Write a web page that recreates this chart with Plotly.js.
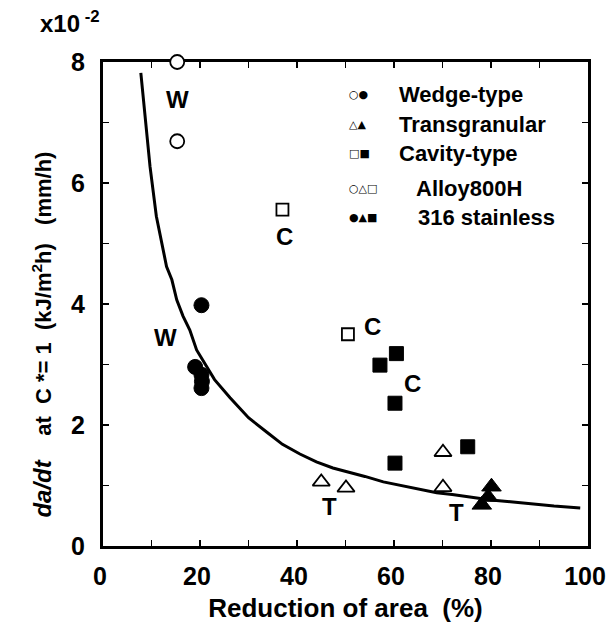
<!DOCTYPE html>
<html>
<head>
<meta charset="utf-8">
<script src="https://cdn.plot.ly/plotly-3.0.1.min.js"></script>
<style>
html,body{margin:0;padding:0;background:#fff;}
#chart{width:607px;height:631px;}
</style>
</head>
<body>
<div id="chart"></div>
<script>
// ---- data ----
const wedgeAlloyX = [15.3, 15.3];
const wedgeAlloyY = [8.0, 6.69];
const wedge316X = [20.3, 19.0, 20.3, 20.4, 20.3];
const wedge316Y = [3.98, 2.96, 2.83, 2.72, 2.61];
const transAlloyX = [45.0, 50.1, 70.1, 70.1];
const transAlloyY = [1.06, 0.96, 1.55, 0.97];
const trans316X = [80.1, 79.4, 78.1];
const trans316Y = [0.98, 0.81, 0.68];
const cavAlloyX = [37.0, 50.5];
const cavAlloyY = [5.56, 3.5];
const cav316X = [60.5, 57.1, 60.2, 60.2, 75.2];
const cav316Y = [3.18, 2.99, 2.36, 1.37, 1.64];
const curveX = [7.8, 8.8, 9.7, 11.0, 12.2, 13.1, 14.2, 15.2, 16.5, 17.9, 19.3, 21.0, 23.0, 26.2, 30.0, 33.8, 37.0, 40.6, 44.0, 47.4, 51.0, 54.0, 57.8, 63.0, 68.8, 72.0, 76.3, 80.0, 84.0, 88.7, 93.0, 98.4];
const curveY = [7.82, 7.0, 6.27, 5.45, 4.95, 4.62, 4.40, 4.07, 3.80, 3.57, 3.24, 3.02, 2.75, 2.45, 2.12, 1.88, 1.68, 1.52, 1.39, 1.29, 1.22, 1.15, 1.06, 0.97, 0.88, 0.85, 0.80, 0.76, 0.73, 0.69, 0.66, 0.63];
const labelText = ['W', 'W', 'C', 'C', 'C', 'T', 'T'];
const labelX = [15.3, 12.9, 37.5, 55.5, 63.9, 46.8, 72.8];
const labelY = [7.38, 3.45, 5.11, 3.62, 2.69, 0.65, 0.55];
const xTickVals = [0, 20, 40, 60, 80, 100];
const xTickText = ['0', '20', '40', '60', '80', '100'];
const yTickVals = [0, 2, 4, 6, 8];
const yTickText = ['0', '2', '4', '6', '8'];
const legendSyms = ['○●', '△▲', '□■', '○△□', '●▲■'];
const legendTexts = ['Wedge-type', 'Transgranular', 'Cavity-type', 'Alloy800H', '316 stainless'];

const F = 'Arial, "Liberation Sans", sans-serif';
const B = (s) => '<b>' + s + '</b>';
const NB = (n) => '\u00a0'.repeat(n);

function mk(x, y, symbol, size, open) {
  return {
    x: x, y: y, type: 'scatter', mode: 'markers', cliponaxis: false, showlegend: false,
    marker: {
      symbol: symbol, size: size,
      color: open ? '#ffffff' : '#000000',
      line: {color: '#000000', width: open ? 1.8 : 1}
    },
    hoverinfo: 'skip'
  };
}

const traces = [
  {x: curveX, y: curveY, type: 'scatter', mode: 'lines', line: {color: '#000', width: 3}, showlegend: false, hoverinfo: 'skip'},
  mk(wedgeAlloyX, wedgeAlloyY, 'circle', 14, true),
  mk(wedge316X, wedge316Y, 'circle', 15, false),
  mk(transAlloyX, transAlloyY, 'triangle-up', 15, true),
  mk(trans316X, trans316Y, 'triangle-up', 17, false),
  mk(cavAlloyX, cavAlloyY, 'square', 12, true),
  mk(cav316X, cav316Y, 'square', 14, false)
];

const annotations = [];
for (let i = 0; i < labelText.length; i++) {
  annotations.push({x: labelX[i], y: labelY[i], xref: 'x', yref: 'y', text: B(labelText[i]), showarrow: false,
    font: {family: F, size: 24, color: '#000'}, xanchor: 'center', yanchor: 'middle'});
}
const legY = [0.932, 0.870, 0.810, 0.738, 0.678];
const legX = [0.606, 0.606, 0.606, 0.641, 0.645];
for (let i = 0; i < legendTexts.length; i++) {
  annotations.push({x: 0.503, y: legY[i], xref: 'paper', yref: 'paper', text: legendSyms[i], showarrow: false,
    font: {family: '"DejaVu Sans", sans-serif', size: 11, color: '#000'}, xanchor: 'left', yanchor: 'middle'});
  annotations.push({x: legX[i], y: legY[i], xref: 'paper', yref: 'paper', text: B(legendTexts[i]), showarrow: false,
    font: {family: F, size: 22, color: '#000'}, xanchor: 'left', yanchor: 'middle'});
}
annotations.push({x: (38 - 103) / 485, y: 1 + (62 - 22) / 484, xref: 'paper', yref: 'paper', text: B('x10<sup> -2</sup>'), showarrow: false,
  font: {family: F, size: 24, color: '#000'}, xanchor: 'left', yanchor: 'middle'});

const axisCommon = {
  showgrid: false, zeroline: false, showline: true, linecolor: '#000', linewidth: 3,
  mirror: 'ticks', ticks: 'inside', ticklen: 6, tickwidth: 1.5, tickcolor: '#000',
  layer: 'below traces', ticklabeloverflow: 'allow',
  tickfont: {family: F, size: 25, color: '#000'}
};

const yTitle = B('<span style="font-size:24px"><i>da/dt</i></span>' + NB(4) + 'at' + NB(2) + 'C *= 1' + NB(2) +
  '(kJ/m<sup>2</sup>h)' + NB(3) + '(mm/h)' + NB(10));

const layout = {
  width: 607, height: 631,
  margin: {l: 103, r: 19, t: 62, b: 85},
  paper_bgcolor: '#fff', plot_bgcolor: '#fff',
  showlegend: false,
  xaxis: Object.assign({}, axisCommon, {
    range: [0, 100], tickmode: 'array', tickvals: xTickVals, ticktext: xTickText.map(B),
    ticklabelstandoff: 6, ticklabelshift: -3,
    minor: {tickvals: [10, 30, 50, 70, 90], ticks: 'inside', ticklen: 6, tickwidth: 1.5, tickcolor: '#000', showgrid: false},
    title: {text: B('Reduction of area' + NB(2) + '(%)'), font: {family: F, size: 26, color: '#000'}, standoff: 10}
  }),
  yaxis: Object.assign({}, axisCommon, {
    range: [0, 8], tickmode: 'array', tickvals: yTickVals, ticktext: yTickText.map(B),
    ticklabelstandoff: 10,
    minor: {tickvals: [1, 3, 5, 7], ticks: 'inside', ticklen: 6, tickwidth: 1.5, tickcolor: '#000', showgrid: false},
    title: {text: yTitle, font: {family: F, size: 22, color: '#000'}, standoff: 14}
  }),
  annotations: annotations
};

Plotly.newPlot('chart', traces, layout, {staticPlot: true, displayModeBar: false});
</script>
</body>
</html>
